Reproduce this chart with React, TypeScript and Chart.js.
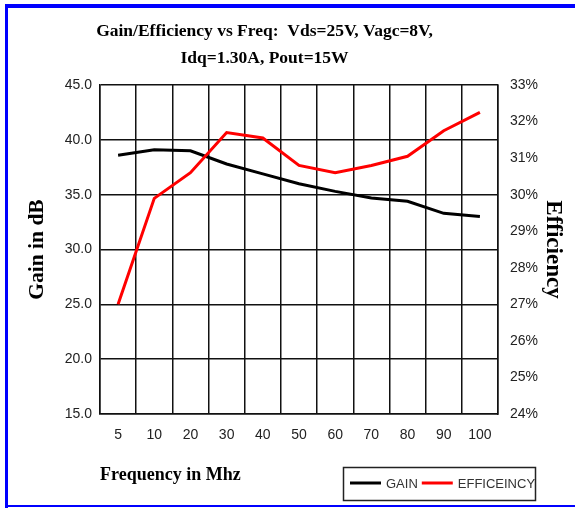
import React, { useEffect, useRef } from 'react';
import { Chart, registerables } from 'chart.js';

Chart.register(...registerables);

const categories = ['5', '10', '20', '30', '40', '50', '60', '70', '80', '90', '100'];
const gainValues = [38.6, 39.1, 39.0, 37.8, 36.9, 36.0, 35.3, 34.7, 34.4, 33.3, 33.0];
const efficiencyValues = [27.0, 29.9, 30.6, 31.7, 31.55, 30.8, 30.6, 30.8, 31.05, 31.75, 32.25];
const gainLabel = 'GAIN';
const efficiencyLabel = 'EFFICEINCY';
const titleLines = ['Gain/Efficiency vs Freq:  Vds=25V, Vagc=8V,', 'Idq=1.30A, Pout=15W'];
const xTitle = 'Frequency in Mhz';
const yTitle = 'Gain in dB';
const y1Title = 'Efficiency';

const GRID = '#111';
const TICK = '#222';
const SHIFT = 46;

const framePlugin = {
  id: 'frame',
  beforeDraw(chart: any) {
    const ctx = chart.ctx;
    ctx.save();
    ctx.fillStyle = '#ffffff';
    ctx.fillRect(0, 0, chart.width, chart.height);
    ctx.fillStyle = '#0000ff';
    ctx.fillRect(5, 4, chart.width - 5, 4);
    ctx.fillRect(5, 4, 3, chart.height - 4);
    ctx.fillRect(5, 505, chart.width - 5, 2);
    ctx.restore();
  },
};

const boxLegendPlugin = {
  id: 'boxLegend',
  afterDraw(chart: any) {
    const ctx = chart.ctx;
    ctx.save();
    ctx.strokeStyle = '#222';
    ctx.lineWidth = 1.5;
    ctx.strokeRect(343.5, 467.5, 192, 33);
    ctx.font = '13px "Liberation Sans", Arial, sans-serif';
    ctx.textBaseline = 'middle';
    ctx.textAlign = 'left';
    let x = 350;
    const y = 483;
    chart.data.datasets.forEach((ds: any) => {
      ctx.strokeStyle = ds.borderColor;
      ctx.lineWidth = 3;
      ctx.beginPath();
      ctx.moveTo(x, y);
      ctx.lineTo(x + 31, y);
      ctx.stroke();
      x += 36;
      ctx.fillStyle = '#333';
      ctx.fillText(ds.label, x, y + 1);
      x += ctx.measureText(ds.label).width + 4;
    });
    ctx.restore();
  },
};

export default function App() {
  const ref = useRef<HTMLCanvasElement | null>(null);

  useEffect(() => {
    if (!ref.current) return;
    const chart = new Chart(ref.current, {
      type: 'line',
      data: {
        labels: categories,
        datasets: [
          {
            label: gainLabel,
            data: gainValues,
            borderColor: '#000000',
            backgroundColor: '#000000',
            borderWidth: 3,
            pointRadius: 0,
            tension: 0,
            yAxisID: 'y',
            order: 2,
          },
          {
            label: efficiencyLabel,
            data: efficiencyValues,
            borderColor: '#ff0000',
            backgroundColor: '#ff0000',
            borderWidth: 3,
            pointRadius: 0,
            tension: 0,
            yAxisID: 'y1',
            order: 1,
          },
        ],
      },
      options: {
        animation: false,
        responsive: false,
        devicePixelRatio: 1,
        layout: { padding: { left: -SHIFT, right: 0, top: 0, bottom: 0 } },
        plugins: {
          legend: { display: false },
          tooltip: { enabled: false },
          title: {
            display: true,
            text: titleLines,
            color: '#000',
            font: { family: '"Liberation Serif", "Times New Roman", serif', weight: 'bold', size: 17.5, lineHeight: 1.56 },
            padding: { top: 18, bottom: 12.4 },
          },
        },
        scales: {
          x: {
            type: 'category',
            offset: true,
            grid: { offset: true, color: GRID, lineWidth: 1.5, drawTicks: false },
            border: { color: GRID, width: 1.5 },
            ticks: {
              color: TICK,
              font: { family: '"Liberation Sans", Arial, sans-serif', size: 14 },
              padding: 13,
              maxRotation: 0,
              autoSkip: false,
            },
            title: {
              display: true,
              text: xTitle,
              align: 'start',
              color: '#000',
              font: { family: '"Liberation Serif", "Times New Roman", serif', weight: 'bold', size: 18 },
              padding: { top: 0, bottom: 22 },
            },
            afterFit: (s: any) => {
              s.height = 94;
            },
          },
          y: {
            type: 'linear',
            position: 'left',
            min: 15,
            max: 45,
            grid: { color: GRID, lineWidth: 1.5, drawTicks: false },
            border: { color: GRID, width: 1.5 },
            ticks: {
              stepSize: 5,
              color: TICK,
              font: { family: '"Liberation Sans", Arial, sans-serif', size: 14 },
              padding: 8,
              callback: (v: any) => Number(v).toFixed(1),
            },
            title: {
              display: true,
              text: yTitle,
              color: '#000',
              font: { family: '"Liberation Serif", "Times New Roman", serif', weight: 'bold', size: 21.5 },
              padding: { top: 25 + SHIFT, bottom: 0 },
            },
            afterFit: (s: any) => {
              s.width = 100 + SHIFT;
            },
          },
          y1: {
            type: 'linear',
            position: 'right',
            min: 24,
            max: 33,
            grid: { drawOnChartArea: false, drawTicks: false },
            border: { color: GRID, width: 1.5 },
            ticks: {
              stepSize: 1,
              color: TICK,
              font: { family: '"Liberation Sans", Arial, sans-serif', size: 14 },
              padding: 12,
              callback: (v: any) => `${v}%`,
            },
            title: {
              display: true,
              text: y1Title,
              color: '#000',
              font: { family: '"Liberation Serif", "Times New Roman", serif', weight: 'bold', size: 23 },
              padding: { top: 8, bottom: 0 },
            },
            afterFit: (s: any) => {
              s.width = 77;
            },
          },
        },
      } as any,
      plugins: [framePlugin, boxLegendPlugin],
    });
    return () => chart.destroy();
  }, []);

  return (
    <div style={{ position: 'absolute', left: 0, top: 0, width: 575, height: 508 }}>
      <canvas ref={ref} width={575} height={508} style={{ display: 'block', width: 575, height: 508 }} />
    </div>
  );
}
